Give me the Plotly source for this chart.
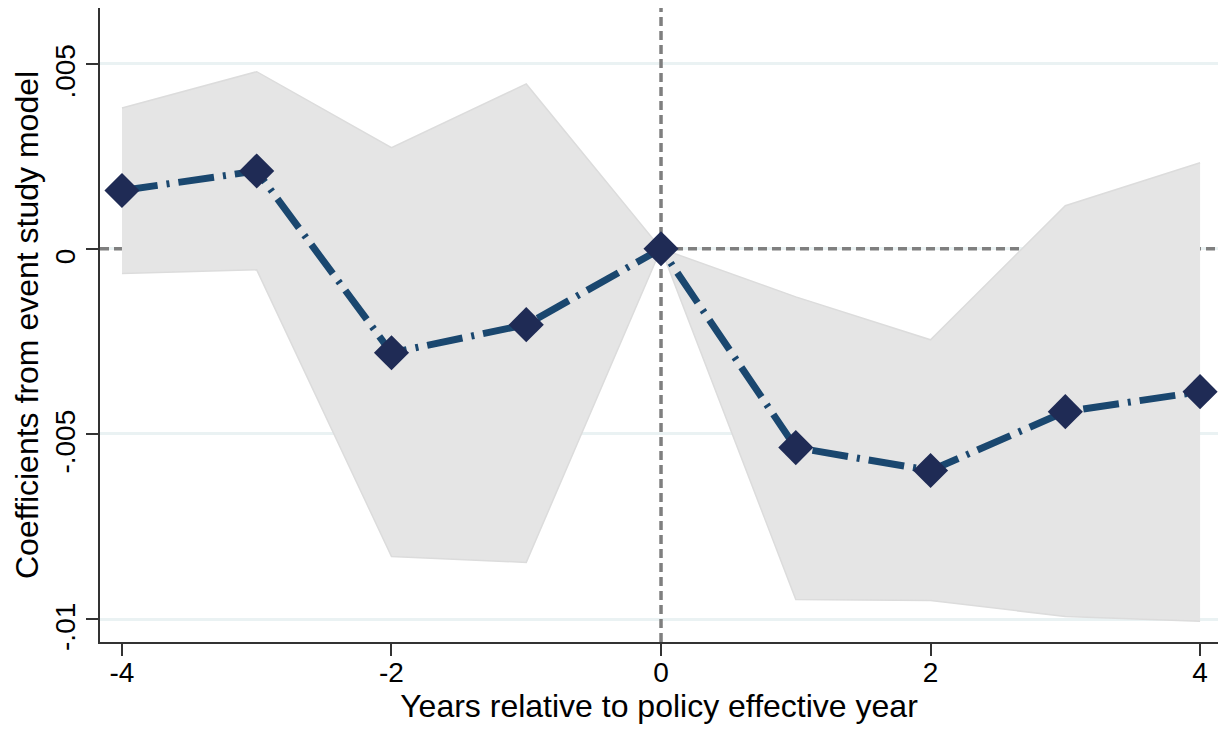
import plotly.graph_objects as go

years = [-4, -3, -2, -1, 0, 1, 2, 3, 4]
coef = [0.00157, 0.00210, -0.00281, -0.00205, 0.0, -0.00537, -0.00599, -0.00440, -0.00386]
ci_upper = [0.00380, 0.00478, 0.00273, 0.00445, 0.0, -0.00130, -0.00246, 0.00116, 0.00232]
ci_lower = [-0.00067, -0.00057, -0.00831, -0.00847, 0.0, -0.00947, -0.00950, -0.00993, -0.01006]

x_tickvals = [-4, -2, 0, 2, 4]
x_ticktext = ["-4", "-2", "0", "2", "4"]
y_tickvals = [0.005, 0.0, -0.005, -0.01]
y_ticktext = [".005", "0", "-.005", "-.01"]

X_RANGE = [-4.163, 4.133]
Y_RANGE = [-0.01062, 0.0065]
REF_X = 0
REF_Y = 0

FONT = "Liberation Sans, Arial, sans-serif"

fig = go.Figure()

# reference lines at zero (drawn under the band)
fig.add_trace(go.Scatter(
    x=X_RANGE, y=[REF_Y, REF_Y], mode="lines",
    line=dict(color="#7f7f7f", width=3.5, dash="9px,5px"),
    showlegend=False, hoverinfo="skip"))
fig.add_trace(go.Scatter(
    x=[REF_X, REF_X], y=Y_RANGE, mode="lines",
    line=dict(color="#7f7f7f", width=3.5, dash="9px,5px"),
    showlegend=False, hoverinfo="skip"))

# confidence band
fig.add_trace(go.Scatter(
    x=years, y=ci_lower, mode="lines",
    line=dict(color="#dcdcdc", width=1.5),
    showlegend=False, hoverinfo="skip"))
fig.add_trace(go.Scatter(
    x=years, y=ci_upper, mode="lines",
    line=dict(color="#dcdcdc", width=1.5),
    fill="tonexty", fillcolor="#e5e5e5",
    showlegend=False, hoverinfo="skip"))

# coefficients
fig.add_trace(go.Scatter(
    x=years, y=coef, mode="lines+markers",
    line=dict(color="#1a476f", width=7, dash="36px,9px,3px,9px"),
    marker=dict(symbol="diamond", size=27, color="#1f2b55", line=dict(width=0)),
    showlegend=False))

fig.update_layout(
    width=1220, height=729,
    margin=dict(l=100, r=2, t=8, b=87),
    paper_bgcolor="white", plot_bgcolor="white",
    font=dict(family=FONT, color="black"),
    showlegend=False,
)

fig.update_xaxes(
    range=X_RANGE,
    tickvals=x_tickvals, ticktext=x_ticktext,
    tickfont=dict(size=28, family=FONT, color="black"),
    showgrid=False, zeroline=False,
    showline=True, linecolor="#333333", linewidth=2,
    ticks="outside", ticklen=12, tickwidth=2, tickcolor="#333333",
    ticklabelstandoff=-8,
    title=dict(text="Years relative to policy effective year",
               font=dict(size=32, family=FONT, color="black"), standoff=6),
)

fig.update_yaxes(
    range=Y_RANGE,
    tickvals=y_tickvals, ticktext=y_ticktext, tickangle=-90,
    tickfont=dict(size=28, family=FONT, color="black"),
    showgrid=True, gridcolor="#eaf2f3", gridwidth=3, zeroline=False,
    showline=True, linecolor="#333333", linewidth=2,
    ticks="outside", ticklen=12, tickwidth=2, tickcolor="#333333",
    ticklabelshift=12,
)

fig.add_annotation(
    text="Coefficients from event study model",
    xref="paper", yref="paper", x=0, y=0.5, xshift=-73,
    xanchor="center", yanchor="middle", textangle=-90, showarrow=False,
    font=dict(size=32, family=FONT, color="black"),
)

fig.write_html("out.html")
